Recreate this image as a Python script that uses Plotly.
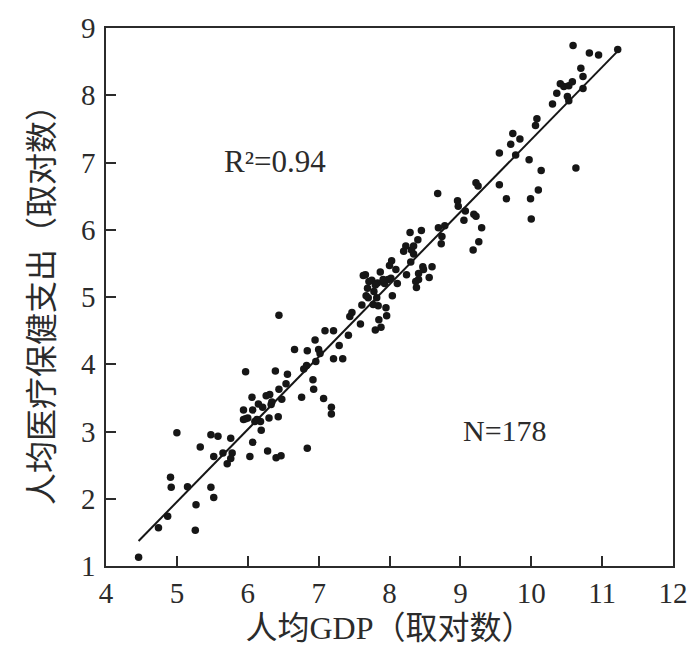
import plotly.graph_objects as go

gdp_log = [4.46, 4.74, 4.87, 4.91, 4.92, 5.00, 5.15, 5.26, 5.27, 5.33, 5.48, 5.48, 5.52, 5.52, 5.58, 5.65,
           5.71, 5.76, 5.78, 5.76, 5.97, 5.94, 5.94, 6.00, 6.03, 6.06, 6.07, 6.07, 6.10, 6.15, 6.18, 6.19,
           6.26, 6.28, 6.30, 6.31, 6.33, 6.39, 6.40, 6.43, 6.44, 6.44, 6.47, 6.48, 6.54, 6.56, 6.66, 6.76,
           6.79, 6.83, 6.84, 6.84, 6.92, 6.93, 6.95, 6.96, 7.00, 7.02, 7.07, 7.09, 7.18, 7.18, 7.21, 7.21,
           7.29, 7.34, 7.42, 7.44, 7.47, 7.59, 7.61, 7.66, 7.69, 7.70, 7.75, 7.77, 7.78, 7.80, 7.82, 7.83,
           7.84, 7.85, 7.87, 7.88, 7.95, 7.96, 7.93, 7.98, 8.02, 8.03, 8.04, 8.09, 8.11, 8.20, 8.23, 8.24,
           8.29, 8.30, 8.31, 8.34, 8.37, 8.38, 8.40, 8.41, 8.45, 8.47, 8.56, 8.60, 8.68, 8.69, 8.73, 8.74,
           8.78, 8.96, 8.97, 9.05, 9.07, 9.18, 9.19, 9.22, 9.22, 9.25, 9.26, 9.30, 9.55, 9.55, 9.65, 9.71,
           9.74, 9.78, 9.84, 9.97, 9.99, 10.00, 10.06, 10.08, 10.10, 10.14, 10.30, 10.36, 10.41, 10.46, 10.51, 10.53,
           10.59, 10.58, 10.63, 10.70, 10.73, 10.73, 10.82, 10.95, 11.22,
           5.97, 6.13, 6.21, 6.34, 7.63, 7.71, 7.80, 7.91, 7.67, 8.00, 8.34, 8.41, 8.48, 10.53]
health_log = [1.13, 1.57, 1.74, 2.32, 2.17, 2.98, 2.18, 1.53, 1.91, 2.77, 2.95, 2.17, 2.02, 2.63, 2.93, 2.68,
              2.52, 2.90, 2.68, 2.60, 3.89, 3.32, 3.18, 3.20, 2.63, 3.51, 3.32, 2.84, 3.15, 3.41, 3.15, 3.02,
              3.53, 2.71, 3.20, 3.55, 3.40, 3.90, 2.61, 3.22, 4.73, 3.63, 2.64, 3.48, 3.71, 3.85, 4.22, 3.51,
              3.93, 3.98, 4.20, 2.75, 3.77, 3.63, 4.36, 4.04, 4.22, 4.16, 3.49, 4.50, 3.36, 3.26, 4.50, 4.08,
              4.28, 4.08, 4.43, 4.71, 4.77, 4.60, 4.88, 5.33, 5.13, 4.99, 5.25, 4.89, 5.08, 4.51, 4.99, 5.21,
              4.87, 4.66, 5.37, 4.55, 4.84, 4.72, 5.20, 5.26, 5.28, 5.54, 5.02, 5.41, 5.20, 5.68, 5.76, 5.33,
              5.96, 5.52, 5.70, 5.76, 5.23, 5.14, 5.85, 5.35, 5.99, 5.45, 5.29, 5.45, 6.54, 6.03, 5.79, 5.90,
              6.06, 6.43, 6.35, 6.14, 6.28, 5.70, 6.23, 6.20, 6.70, 6.65, 5.82, 6.03, 7.14, 6.67, 6.46, 7.27,
              7.43, 7.11, 7.35, 7.04, 6.46, 6.16, 7.55, 7.65, 6.59, 6.88, 7.87, 8.03, 8.17, 8.13, 7.98, 8.14,
              8.74, 8.20, 6.92, 8.40, 8.28, 8.10, 8.63, 8.60, 8.68,
              3.19, 3.18, 3.36, 3.44, 5.32, 5.23, 5.18, 5.26, 5.02, 5.47, 5.64, 5.26, 5.41, 7.92]

fit_slope = 1.0775
fit_intercept = -3.434
fit_x = [4.46, 11.22]
fit_y = [fit_slope * v + fit_intercept for v in fit_x]

x_ticks = [4, 5, 6, 7, 8, 9, 10, 11, 12]
y_ticks = [1, 2, 3, 4, 5, 6, 7, 8, 9]

serif = "Liberation Serif, Times New Roman, serif"
cjk = "Liberation Serif, Noto Sans CJK SC, serif"
ink = "#2b2b2b"

fig = go.Figure()
fig.add_trace(go.Scatter(x=gdp_log, y=health_log, mode="markers",
                         marker=dict(size=7.5, color="#161616"), showlegend=False))
fig.add_trace(go.Scatter(x=fit_x, y=fit_y, mode="lines",
                         line=dict(color="#161616", width=2), showlegend=False))

fig.add_annotation(x=6.39, y=7.02, text="R²=0.94", showarrow=False,
                   font=dict(family=serif, size=31, color=ink))
fig.add_annotation(x=9.63, y=3.02, text="N=178", showarrow=False,
                   font=dict(family=serif, size=30, color=ink))

axis_common = dict(showline=True, linecolor=ink, linewidth=1.5, mirror=True,
                   ticks="inside", ticklen=10, tickwidth=1.5, tickcolor=ink,
                   showgrid=False, zeroline=False, automargin=False,
                   tickfont=dict(family=serif, size=29, color=ink))

fig.update_xaxes(range=[4, 12], tickvals=x_ticks, ticktext=[str(v) for v in x_ticks],
                 title=dict(text="人均GDP（取对数）", font=dict(family=cjk, size=32, color=ink), standoff=9),
                 **axis_common)
fig.update_yaxes(range=[1, 9], tickvals=y_ticks, ticktext=[str(v) for v in y_ticks],
                 ticklabelstandoff=3,
                 title=dict(text="人均医疗保健支出（取对数）", font=dict(family=cjk, size=32, color=ink), standoff=18),
                 **axis_common)

fig.update_layout(width=700, height=657, margin=dict(l=98, r=35, t=20, b=99),
                  plot_bgcolor="white", paper_bgcolor="white")

fig.write_html("out.html")
